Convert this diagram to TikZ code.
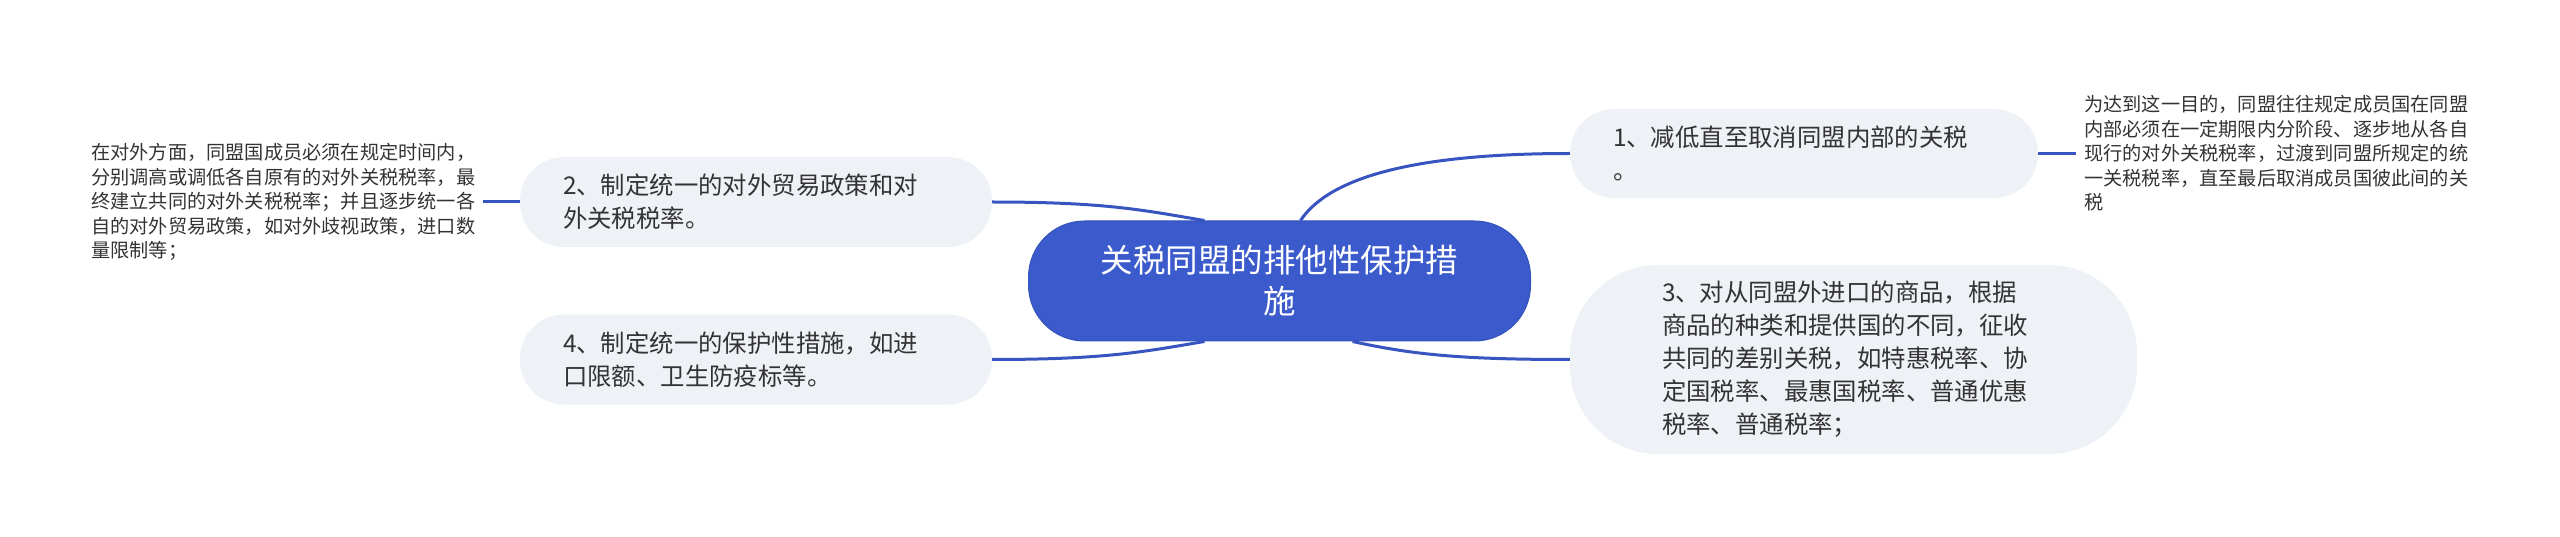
\documentclass[tikz,border=0pt]{standalone}
\usepackage{fontspec}
\newfontfamily\cjk{Noto Sans CJK SC}
\definecolor{rootblue}{HTML}{3B5BCC}
\definecolor{rootedge}{HTML}{3352BA}
\definecolor{topicgray}{HTML}{EEF1F5}
\definecolor{linkblue}{HTML}{3754C0}
\definecolor{textgray}{HTML}{333333}
\begin{document}
\begin{tikzpicture}[x=1pt,y=1pt,
  root/.style={rounded corners=56pt,fill=rootblue,draw=rootedge,line width=1pt,text=white,
    minimum width=502pt,minimum height=120pt,align=center,font=\cjk\fontsize{32.5pt}{41pt}\selectfont},
  topic/.style={rounded corners=44pt,fill=topicgray,text=textgray,align=left,inner xsep=43pt,
    minimum height=90pt,font=\cjk\fontsize{24.4pt}{33pt}\selectfont},
  leaf/.style={anchor=west,align=left,inner xsep=8pt,text=textgray,font=\cjk\fontsize{19.2pt}{24.5pt}\selectfont},
  link/.style={draw=linkblue,line width=3pt}]
\useasboundingbox (0,0) rectangle (2560,536);
\node[root] (root) at (1279.5,255) {关税同盟的排他性保护措\\施};
\node[topic,text width=382pt,minimum height=89pt] (n1) at (1804,382.5) {1、减低直至取消同盟内部的关税\\。};
\node[topic,text width=386pt] (n2) at (756,334) {2、制定统一的对外贸易政策和对\\外关税税率。};
\node[topic,text width=383pt,inner xsep=92pt,minimum height=189pt,rounded corners=88pt] (n3) at (1853.5,176.5) {3、对从同盟外进口的商品，根据\\商品的种类和提供国的不同，征收\\共同的差别关税，如特惠税率、协\\定国税率、最惠国税率、普通优惠\\税率、普通税率；};
\node[topic,text width=386pt] (n4) at (756,176.5) {4、制定统一的保护性措施，如进\\口限额、卫生防疫标等。};
\node[leaf] (leafL) at (83,334) {在对外方面，同盟国成员必须在规定时间内，\\分别调高或调低各自原有的对外关税税率，最\\终建立共同的对外关税税率；并且逐步统一各\\自的对外贸易政策，如对外歧视政策，进口数\\量限制等；};
\node[leaf] (leafR) at (2076,382.5) {为达到这一目的，同盟往往规定成员国在同盟\\内部必须在一定期限内分阶段、逐步地从各自\\现行的对外关税税率，过渡到同盟所规定的统\\一关税税率，直至最后取消成员国彼此间的关\\税};
% where the links leave the root
\coordinate (r1) at ([xshift=21pt]root.north);
\coordinate (r2) at ([xshift=-75pt]root.north);
\coordinate (r3) at ([xshift=73pt]root.south);
\coordinate (r4) at ([xshift=-75pt]root.south);
\draw[link] (r1) .. controls +(30,45) and +(-150,0) .. (n1.west);
\draw[link] (r2) .. controls +(-60,10) and +(115,0) .. (n2.east);
\draw[link] (r3) .. controls +(60,-13) and +(-110,0) .. (n3.west);
\draw[link] (r4) .. controls +(-60,-10) and +(115,0) .. (n4.east);
\draw[link] (leafL.east) -- (n2.west);
\draw[link] (n1.east) -- (leafR.west);
\end{tikzpicture}
\end{document}
